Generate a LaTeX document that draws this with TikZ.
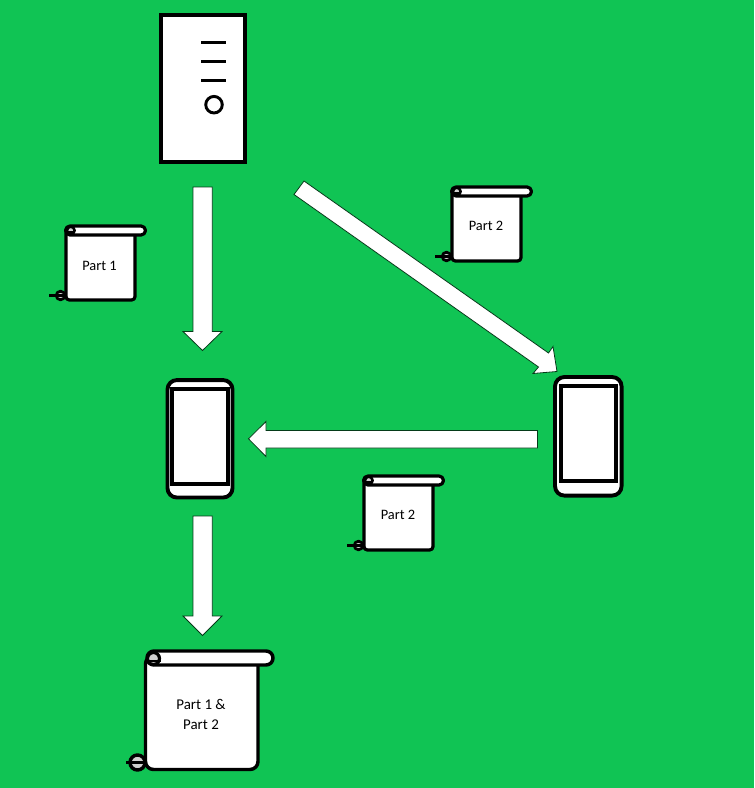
\documentclass[tikz,border=0pt]{standalone}
\usepackage{fontspec}
\setmainfont{Carlito}
\definecolor{bg}{HTML}{10C454}
\definecolor{rollgray}{HTML}{D0D0D0}
\tikzset{
  x=0.75pt,y=-0.75pt,
  box/.style={draw=black,fill=white,inner sep=0pt,outer sep=0pt},
  bodyink/.style={draw=black,fill=white,line width=2.4pt,line join=round},
  roll/.style={draw=black,fill=rollgray,line join=round},
  blockarrow/.style={draw=black!70!bg,fill=white,line width=0.6pt,line join=miter},
  lbl/.style={align=center,text=black,inner sep=0pt},
  scrollpart/.pic={
    \draw[bodyink,rounded corners=2.5pt] (0,4) -- (0,74) -- (69,74) -- (69,4) -- cycle;
    \draw[bodyink] (4,0) -- (75,0) arc[start angle=-90,end angle=90,radius=4.5] -- (4,9) arc[start angle=90,end angle=270,radius=4.5] -- cycle;
    \draw[roll,line width=1.9pt] (4.8,4.5) circle[radius=3.8];
    \draw[line width=1.5pt] (2,5.8) -- (9,5.8);
    \draw[roll,line width=2.1pt] (-5.5,69.5) circle[radius=4.3];
    \draw[line width=1.6pt] (-17,69.5) -- (-1,69.5);
  }
}
\begin{document}
\begin{tikzpicture}
\useasboundingbox[fill=bg] (0,0) rectangle (754,788);
% server
\node[box,line width=2.6pt,minimum width=63pt,minimum height=110.25pt] (server) at (203,88.5) {};
\coordinate (bar1l) at (201.3,42.7); \coordinate (bar1r) at (226,42.7);
\coordinate (bar2l) at (201.3,61.7); \coordinate (bar2r) at (226,61.7);
\coordinate (bar3l) at (201.3,80.7); \coordinate (bar3r) at (226,80.7);
\draw[line width=2.2pt] (bar1l) -- (bar1r);
\draw[line width=2.2pt] (bar2l) -- (bar2r);
\draw[line width=2.2pt] (bar3l) -- (bar3r);
\node[box,circle,line width=2.2pt,minimum size=12.4pt] (led) at (214,104.7) {};
% phones
\node[box,line width=2.9pt,rounded corners=7pt,minimum width=48.75pt,minimum height=88.1pt] (phoneA) at (200,438.8) {};
\node[box,line width=3pt,minimum width=42.4pt,minimum height=71.6pt] (screenA) at (200.2,436.3) {};
\node[box,line width=2.9pt,rounded corners=7pt,minimum width=49.9pt,minimum height=88.9pt] (phoneB) at (588.3,436.3) {};
\node[box,line width=3pt,minimum width=41.7pt,minimum height=71.2pt] (screenB) at (588.5,433.5) {};
% arrows
\draw[blockarrow] (193,187) -- (212.3,187) -- (212.3,331.5) -- (222,331.5) -- (202.5,350.5) -- (183,331.5) -- (193,331.5) -- cycle;
\draw[blockarrow] (193,516) -- (212.3,516) -- (212.3,616) -- (222,616) -- (202.5,635.5) -- (183,616) -- (193,616) -- cycle;
\draw[blockarrow] (537.5,430.5) -- (537.5,448) -- (266,448) -- (266,456.5) -- (248.5,438.8) -- (266,421.5) -- (266,430.5) -- cycle;
\draw[blockarrow] (304,181) -- (548.5,353) -- (553,346.5) -- (557,371.5) -- (533,373.5) -- (538.5,367) -- (294,194.5) -- cycle;
% scrolls
\pic at (66,226) {scrollpart};
\node[lbl,font=\fontsize{10.8}{14}\selectfont] (t1) at (99.5,266) {Part 1};
\pic at (452,187) {scrollpart};
\node[lbl,font=\fontsize{10.8}{14}\selectfont] (t2) at (486,226) {Part 2};
\pic at (364,476) {scrollpart};
\node[lbl,font=\fontsize{10.8}{14}\selectfont] (t3) at (398,515) {Part 2};
% big scroll
\draw[bodyink,line width=2.6pt,rounded corners=6pt] (145.5,656) -- (145.5,769.5) -- (258,769.5) -- (258,656) -- cycle;
\draw[bodyink,line width=2.6pt] (154,651) -- (266,651) arc[start angle=-90,end angle=90,radius=7] -- (154,665) arc[start angle=90,end angle=270,radius=7] -- cycle;
\draw[roll,line width=2.4pt] (153.5,658.5) circle[radius=6];
\draw[line width=1.8pt] (149,661) -- (160.5,661);
\draw[roll,line width=2.6pt] (137.5,762.5) circle[radius=7.5];
\draw[line width=1.8pt] (126,762.5) -- (147,762.5);
\node[lbl,font=\fontsize{11.2}{14.4}\selectfont] (t4) at (201,714.5) {Part 1 \&\\Part 2};
\end{tikzpicture}
\end{document}
